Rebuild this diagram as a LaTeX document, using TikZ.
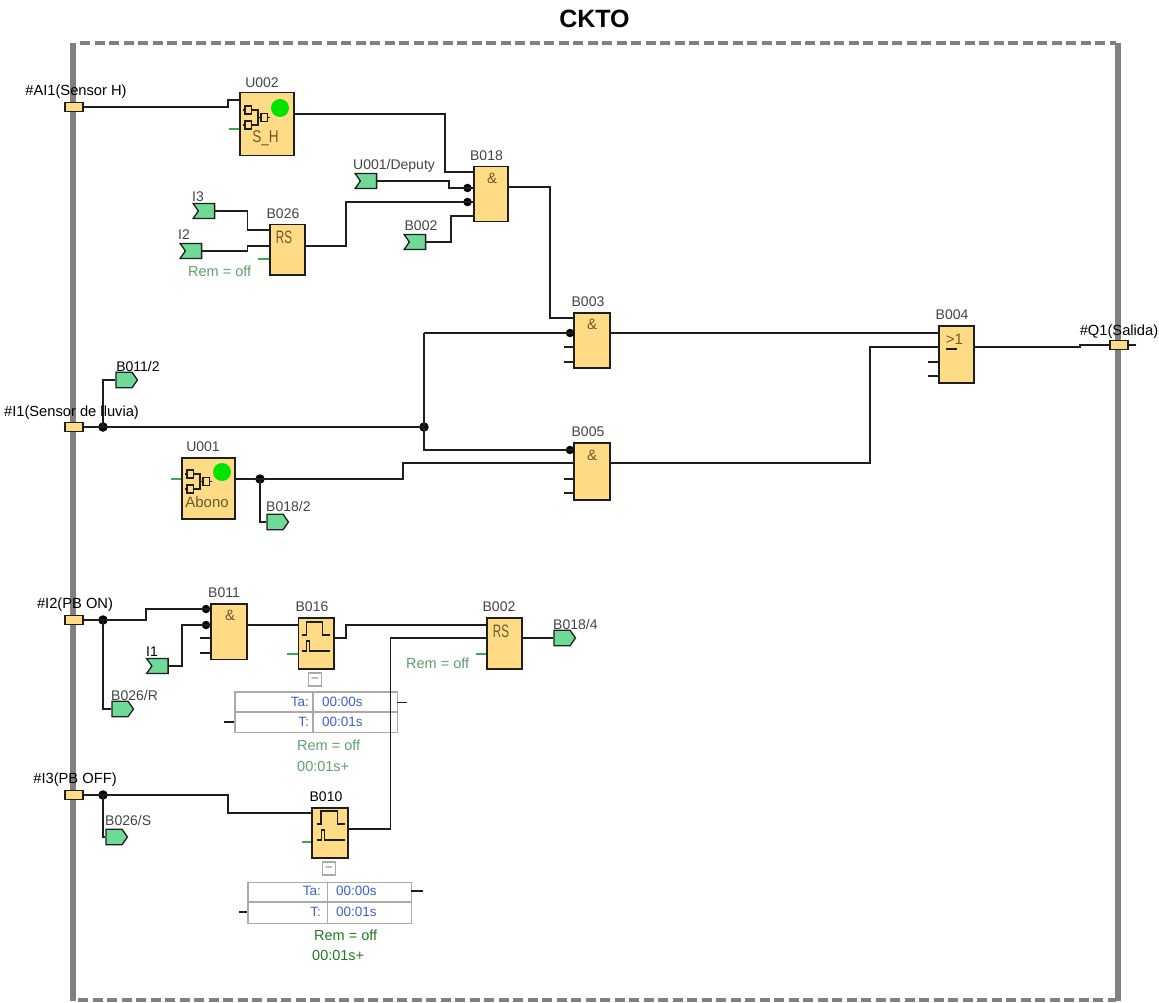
\documentclass[tikz,border=0pt]{standalone}
\usepackage{graphicx}
\usepackage{fontspec}
\setmainfont{Liberation Sans}
\usetikzlibrary{shapes.symbols}
\definecolor{blockfill}{HTML}{FFDB86}
\definecolor{flagfill}{HTML}{6FD996}
\definecolor{framegray}{HTML}{808080}
\definecolor{labelgray}{HTML}{444444}
\definecolor{wirecol}{HTML}{1E1E1E}
\definecolor{remgreen}{HTML}{5F9F6F}
\definecolor{remdark}{HTML}{1F7A1F}
\definecolor{stubgreen}{HTML}{3FA84F}
\definecolor{parblue}{HTML}{3F5FD0}
\definecolor{tablegray}{HTML}{AAAAAA}
\definecolor{symcol}{HTML}{6B5A30}
\newcommand{\fs}[1]{\fontsize{#1}{#1}\selectfont}
\tikzset{
  wire/.style={draw=wirecol,line width=1.5pt},
  stub/.style={draw=wirecol,line width=1.3pt},
  gstub/.style={draw=stubgreen,line width=1.2pt},
  block/.style={draw=wirecol,fill=blockfill,line width=1.5pt,inner sep=0pt,anchor=north west},
  terminal/.style={draw=wirecol,fill=blockfill,line width=1.1pt,inner sep=0pt,minimum width=18pt,minimum height=9.5pt},
  flagout/.style={signal,signal to=east,signal from=nowhere,draw=wirecol,fill=flagfill,line width=1.3pt,inner sep=0pt,minimum width=21.5pt,minimum height=15.5pt,signal pointer angle=110},
  flagin/.style={signal,signal from=west,signal to=nowhere,draw=wirecol,fill=flagfill,line width=1.3pt,inner sep=0pt,minimum width=21.5pt,minimum height=15pt,signal pointer angle=110},
  jdot/.style={circle,fill=black,inner sep=0pt,minimum size=9.5pt},
  pdot/.style={circle,fill=black,inner sep=0pt,minimum size=8.5pt},
  blabel/.style={text=labelgray,inner sep=0pt,font=\fs{14}},
  tlabel/.style={text=black,inner sep=0pt,font=\fs{14}},
  termlabel/.style={text=black,inner sep=0pt,font=\fs{14.7}},
  rem/.style={text=remgreen,inner sep=0pt,anchor=west,font=\fs{14.5}},
  remd/.style={text=remdark,inner sep=0pt,anchor=west,font=\fs{14.5}},
  par/.style={text=parblue,inner sep=0pt,font=\fs{13.5}},
  sym/.style={text=symcol,inner sep=0pt,font=\fs{15}},
  ptable/.style={draw=tablegray,line width=1.5pt,inner sep=0pt,anchor=north west},
  tbox/.style={draw=tablegray,fill=white,line width=1.5pt,inner sep=0pt,minimum width=13pt,minimum height=13pt,text=parblue,font=\fs{12}},
  wave/.style={draw=wirecol,line width=1.3pt},
  icon/.style={draw=wirecol,line width=1.2pt}
}
% #1 x, #2 y of upper left corner of the delay symbol's block
\newcommand{\waveform}[2]{%
  \draw[wave] (#1+4,#2+18)--(#1+8.5,#2+18)--(#1+8.5,#2+5)--(#1+25,#2+5)--(#1+25,#2+18)--(#1+32,#2+18);
  \draw[wave] (#1+4,#2+34)--(#1+9,#2+34)--(#1+9,#2+24)--(#1+12,#2+24)--(#1+12,#2+34)--(#1+32,#2+34);}
% UDF icon, #1 x, #2 y of upper left small box
\newcommand{\udficon}[2]{%
  \draw[icon] (#1,#2) rectangle ++(6.5,8);
  \draw[icon] (#1,#2+15) rectangle ++(6.5,8);
  \draw[icon] (#1+16,#2+7.5) rectangle ++(6.5,8);
  \draw[icon] (#1-2,#2+4)--(#1,#2+4) (#1-2,#2+19)--(#1,#2+19) (#1+22.5,#2+11.5)--(#1+25,#2+11.5);
  \draw[icon] (#1+6.5,#2+4)--(#1+13,#2+4)--(#1+13,#2+19)--(#1+6.5,#2+19) (#1+13,#2+11.5)--(#1+16,#2+11.5);}
\begin{document}
\begin{tikzpicture}[x=1pt,y=-1pt]
\useasboundingbox (0,0) rectangle (1159,1003);
% frame
\draw[framegray,line width=5.5pt] (73,43)--(73,1001);
\draw[framegray,line width=5.5pt] (1118,43)--(1118,1001);
\draw[framegray,line width=3.5pt,dash pattern=on 10pt off 4.5pt] (80,43)--(1116,43);
\draw[framegray,line width=3.5pt,dash pattern=on 10pt off 4.5pt] (78,1000)--(1116,1000);
\node (title) at (594.5,19) {\fs{25}\bfseries CKTO};

% parameter tables (under wires)
\node[ptable,minimum width=162.5pt,minimum height=40.5pt] (tabA) at (234,691) {};
\draw[tablegray,line width=1.5pt] (234,712)--(396.5,712) (313,691)--(313,731.5);
\node[ptable,minimum width=163.5pt,minimum height=41pt] (tabB) at (247,881.7) {};
\draw[tablegray,line width=1.5pt] (247,902)--(410.5,902) (327.3,881.7)--(327.3,922.7);
\draw[stub] (397,702.5)--(407,702.5) (224,722)--(234,722);
\draw[stub] (411,891)--(423,891) (239,912)--(247,912);
\node[par,anchor=east] (tA1) at (309,702) {Ta:};
\node[par,anchor=east] (tA2) at (309,722) {T:};
\node[par,anchor=west] (vA1) at (322,702) {00:00s};
\node[par,anchor=west] (vA2) at (322,722) {00:01s};
\node[par,anchor=east] (tB1) at (321,891) {Ta:};
\node[par,anchor=east] (tB2) at (321,912) {T:};
\node[par,anchor=west] (vB1) at (336,891) {00:00s};
\node[par,anchor=west] (vB2) at (336,912) {00:01s};
\node[tbox] (boxA) at (315,679.5) {--};
\node[tbox] (boxB) at (329,868.5) {--};

% pin coordinates
\coordinate (U002i) at (239,100);
\coordinate (U002o) at (293,114);
\coordinate (B018i1) at (473,172);
\coordinate (B018i2) at (473,188);
\coordinate (B018i3) at (473,202);
\coordinate (B018i4) at (473,216);
\coordinate (B018o) at (507,187);
\coordinate (B026i1) at (269,230);
\coordinate (B026i2) at (269,246);
\coordinate (B026o) at (304,246);
\coordinate (B003i1) at (573,318);
\coordinate (B003i2) at (573,333);
\coordinate (B003o) at (609,333);
\coordinate (B005i1) at (573,450);
\coordinate (B005i2) at (573,463);
\coordinate (B005o) at (609,463);
\coordinate (B004i1) at (938,333);
\coordinate (B004i2) at (938,347);
\coordinate (B004o) at (973,347);
\coordinate (U001o) at (234,479);
\coordinate (B011i1) at (210,609);
\coordinate (B011i2) at (210,625);
\coordinate (B011o) at (246,625);
\coordinate (B016i) at (297.7,625);
\coordinate (B016o) at (333,638);
\coordinate (B002i1) at (486,625);
\coordinate (B002i2) at (486,638);
\coordinate (B002o) at (521,638);
\coordinate (B010i) at (311,813);
\coordinate (B010o) at (347,829);

% blocks
\node[block,minimum width=54pt,minimum height=63pt] (U002) at (239,92) {};
\node[block,minimum width=34pt,minimum height=55pt] (B018) at (473,166) {};
\node[block,minimum width=35pt,minimum height=50pt] (B026) at (269,224) {};
\node[block,minimum width=36pt,minimum height=55pt] (B003) at (573,312) {};
\node[block,minimum width=35pt,minimum height=57pt] (B004) at (938,325) {};
\node[block,minimum width=36pt,minimum height=57pt] (B005) at (573,442) {};
\node[block,minimum width=53pt,minimum height=61pt] (U001) at (181,457) {};
\node[block,minimum width=36pt,minimum height=55.5pt] (B011) at (210,603) {};
\node[block,minimum width=35.5pt,minimum height=51pt] (B016) at (297.5,617) {};
\node[block,minimum width=35pt,minimum height=51pt] (B002) at (486,617) {};
\node[block,minimum width=36pt,minimum height=50pt] (B010) at (311,807) {};

% terminals
\node[terminal] (AI1) at (74,107) {};
\node[terminal] (I1t) at (74,427) {};
\node[terminal] (I2t) at (74,620) {};
\node[terminal] (I3t) at (74,795) {};
\node[terminal] (Q1t) at (1119,345) {};

% flags
\node[flagin] (fDep) at (368.5,181) {};
\node[flagin] (fB002) at (417.5,242) {};
\node[flagin] (fI3) at (206.5,211) {};
\node[flagin] (fI2) at (193.5,251) {};
\node[flagin] (fI1) at (160,666) {};
\node[flagout] (fB011) at (124,380) {};
\node[flagout] (fB018b) at (275,522) {};
\node[flagout] (fB018d) at (562,638) {};
\node[flagout] (fB026R) at (120,709) {};
\node[flagout] (fB026S) at (114,837) {};

% junctions
\node[jdot] (jI1) at (103,427) {};
\node[jdot] (jI1b) at (424,427) {};
\node[jdot] (jU1) at (260,479) {};
\node[jdot] (jI2) at (103,620) {};
\node[jdot] (jI3) at (103,795) {};
\node[pdot] (p1) at (467.5,188) {};
\node[pdot] (p2) at (467.5,202) {};
\node[pdot] (p3) at (570,333) {};
\node[pdot] (p4) at (570,450) {};
\node[pdot] (p5) at (206,609) {};
\node[pdot] (p6) at (206,625) {};

% wires
\draw[wire] (AI1.east) -- (228,107) -- (228,100) -- (U002i);
\draw[wire] (U002o) -- (445,114) -- (445,172) -- (B018i1);
\draw[wire] (fDep.east) -- (449,181) -- (449,188) -- (B018i2);
\draw[wire] (B026o) -- (346,246) -- (346,202) -- (B018i3);
\draw[wire] (fB002.east) -- (451,242) -- (451,216) -- (B018i4);
\draw[wire] (fI3.east) -- (247.5,211) -- (247.5,230) -- (B026i1);
\draw[wire] (fI2.east) -- (247.5,251) -- (247.5,246) -- (B026i2);
\draw[wire] (B018o) -- (550,187) -- (550,318) -- (B003i1);
\draw[wire] (I1t.east) -- (jI1b.center);
\draw[wire] (424,333) -- (B003i2);
\draw[wire] (424,333) -- (jI1b.center) -- (424,450) -- (B005i1);
\draw[wire] (jI1.center) -- (103,380) -- (fB011.west);
\draw[wire] (U001o) -- (403,479) -- (403,463) -- (B005i2);
\draw[wire] (jU1.center) -- (260,522) -- (fB018b.west);
\draw[wire] (B003o) -- (B004i1);
\draw[wire] (B005o) -- (870,463) -- (870,347) -- (B004i2);
\draw[wire] (B004o) -- (1080,347) -- (1080,345) -- (Q1t.west);
\draw[stub] (Q1t.east) -- (1136,345);
\draw[wire] (I2t.east) -- (146,620) -- (146,609) -- (B011i1);
\draw[wire] (jI2.center) -- (103,709) -- (fB026R.west);
\draw[wire] (fI1.east) -- (182,666) -- (182,625) -- (B011i2);
\draw[wire] (B011o) -- (B016i);
\draw[wire] (B016o) -- (346,638) -- (346,625) -- (B002i1);
\draw[wire] (B010o) -- (390.5,829) -- (390.5,638) -- (B002i2);
\draw[wire] (B002o) -- (fB018d.west);
\draw[wire] (I3t.east) -- (228,795) -- (228,813) -- (B010i);
\draw[wire] (jI3.center) -- (103,837) -- (fB026S.west);

% unused pins
\draw[stub] (564,347)--(573,347) (564,362)--(573,362);
\draw[stub] (564,479)--(573,479) (564,493)--(573,493);
\draw[stub] (928,362)--(938,362) (928,376)--(938,376);
\draw[stub] (200,638)--(210,638) (200,653)--(210,653);
\draw[gstub] (229,129)--(239,129);
\draw[gstub] (258,259)--(269,259);
\draw[gstub] (171,479)--(181,479);
\draw[gstub] (287,654)--(297.5,654);
\draw[gstub] (476,654)--(486,654);
\draw[gstub] (302,842)--(311,842);

% block symbols
\node[circle,fill=green!90!black,inner sep=0pt,minimum size=18pt] (ledU2) at (280,108) {};
\node[circle,fill=green!90!black,inner sep=0pt,minimum size=18pt] (ledU1) at (222,472) {};
\udficon{245}{106}
\udficon{187}{470}
\node[sym] (sU2) at (265.5,138) {\fs{17}\scalebox{.8}[1]{S\_H}};
\node[sym] (sU1) at (207,502) {Abono};
\node[sym] (s1) at (492,178) {\&};
\node[sym] (s2) at (284,237) {\fs{18}\scalebox{.65}[1]{RS}};
\node[sym] (s3) at (592,324) {\&};
\node[sym] (s4) at (592,455) {\&};
\node[sym] (s5) at (230,615) {\&};
\node[sym] (s6) at (501,631.5) {\fs{18}\scalebox{.65}[1]{RS}};
\node[sym] (s7) at (954.5,339) {>1};
\draw[wirecol,line width=1.4pt] (945.5,349)--(956.5,349);
\waveform{297.7}{617}
\waveform{312.5}{806}

% block labels
\node[blabel] (lU002) at (262,83) {U002};
\node[blabel] (lB018) at (486.5,156) {B018};
\node[blabel] (lB026) at (283,214) {B026};
\node[blabel] (lB003) at (588,301.5) {B003};
\node[blabel] (lB004) at (952,315) {B004};
\node[blabel] (lB005) at (588,431.5) {B005};
\node[blabel] (lU001) at (203,447) {U001};
\node[blabel] (lB011) at (224,593) {B011};
\node[blabel] (lB016) at (312,607) {B016};
\node[blabel] (lB002) at (499,607) {B002};
\node[tlabel] (lB010) at (326,797) {B010};
\node[blabel,anchor=west] (lDep) at (353,166) {U001/Deputy};
\node[blabel] (lfB002) at (421,226) {B002};
\node[blabel] (lI3) at (198,197) {I3};
\node[blabel] (lI2) at (184,235) {I2};
\node[tlabel] (lI1) at (152,652) {I1};
\node[tlabel] (lfB011) at (138,366) {B011/2};
\node[blabel,anchor=west] (lfB018b) at (266,506) {B018/2};
\node[blabel,anchor=west] (lfB018d) at (553,624) {B018/4};
\node[blabel,anchor=west] (lfB026R) at (111,695) {B026/R};
\node[blabel,anchor=west] (lfB026S) at (105,820) {B026/S};
\node[termlabel] (lAI1) at (76,92) {\#AI1(Sensor H)};
\node[termlabel] (lI1t) at (71.5,413) {\#I1(Sensor de lluvia)};
\node[termlabel] (lI2t) at (75,605) {\#I2(PB ON)};
\node[termlabel] (lI3t) at (75,780) {\#I3(PB OFF)};
\node[termlabel] (lQ1) at (1119,332) {\#Q1(Salida)};

% retentivity
\node[rem] (r1) at (188,271) {Rem = off};
\node[rem] (r2) at (406,663) {Rem = off};
\node[rem] (r3) at (297,745) {Rem = off};
\node[rem] (r4) at (297,767) {00:01s+};
\node[remd] (r5) at (314,935) {Rem = off};
\node[remd] (r6) at (312,955) {00:01s+};
\end{tikzpicture}
\end{document}
